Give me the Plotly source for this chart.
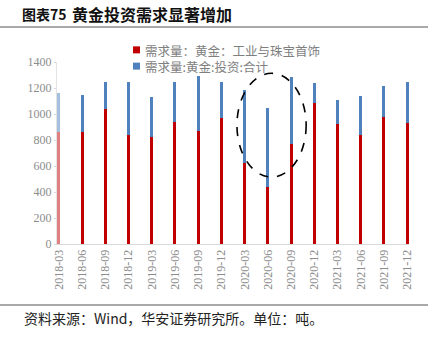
import plotly.graph_objects as go

# Quarterly gold demand (tonnes)
periods = ["2018-03", "2018-06", "2018-09", "2018-12",
           "2019-03", "2019-06", "2019-09", "2019-12",
           "2020-03", "2020-06", "2020-09", "2020-12",
           "2021-03", "2021-06", "2021-09", "2021-12"]
jewelry = [862, 860, 1042, 837, 820, 940, 870, 970,
           620, 440, 768, 1088, 924, 842, 975, 927]
investment = [300, 290, 208, 411, 307, 304, 420, 274,
              568, 605, 517, 151, 187, 300, 241, 317]
y_ticks = [0, 200, 400, 600, 800, 1000, 1200, 1400]

series_names = ["需求量：黄金：工业与珠宝首饰", "需求量:黄金:投资:合计"]
RED = "#C00000"
BLUE = "#4F81BD"
RED_PALE = "#E08080"
BLUE_PALE = "#A7C0DE"

x = list(range(len(periods)))
red_colors = [RED_PALE if i == 0 else RED for i in x]
blue_colors = [BLUE_PALE if i == 0 else BLUE for i in x]

fig = go.Figure()
fig.add_trace(go.Bar(x=x, y=jewelry, name=series_names[0], width=0.13,
                     marker=dict(color=red_colors, line=dict(width=0))))
fig.add_trace(go.Bar(x=x, y=investment, name=series_names[1], width=0.13,
                     marker=dict(color=blue_colors, line=dict(width=0))))

serif = "Liberation Serif"
cjk = "Noto Sans CJK SC"

# plot area: 57..409 px horizontally, 62..244 px vertically
L, T, W, H = 57, 62, 352, 182


def px(xp):
    return (xp - L) / W


def py(yp):
    return (T + H - yp) / H


fig.update_layout(
    width=428, height=343,
    margin=dict(l=L, r=428 - L - W, t=T, b=343 - T - H),
    paper_bgcolor="white", plot_bgcolor="white",
    barmode="stack", bargap=0,
    showlegend=False,
    xaxis=dict(range=[-0.08, 15.08], tickvals=x, ticktext=periods,
               tickangle=-90, showgrid=False, zeroline=False,
               showline=True, linecolor="#D9D9D9", linewidth=1,
               ticks="", tickfont=dict(family=serif, size=12, color="#8C8C8C")),
    yaxis=dict(range=[0, 1400], tickvals=y_ticks, showgrid=False,
               zeroline=False, showline=True, linecolor="#E3E3E3",
               linewidth=1, ticks="outside", ticklen=2, tickcolor="#D9D9D9",
               tickfont=dict(family=serif, size=12, color="#8C8C8C")),
)

# Legend: two swatches beside one two-line label block
legend_font = 12.5
line_h = 1.3 * legend_font
legend_mid = 58
swatch_rows = [(legend_mid - line_h / 2, RED), (legend_mid + line_h / 2, BLUE)]
for y_px, col in swatch_rows:
    fig.add_shape(type="rect", xref="paper", yref="paper",
                  x0=px(133), x1=px(140),
                  y0=py(y_px + 3.5), y1=py(y_px - 3.5),
                  fillcolor=col, line=dict(width=0))
fig.add_annotation(text="<br>".join(series_names), xref="paper", yref="paper",
                   x=px(144), y=py(legend_mid), align="left",
                   xanchor="left", yanchor="middle", showarrow=False,
                   borderpad=0,
                   font=dict(family=cjk, size=legend_font, color="#7F7F7F"))

# Dashed ellipse around the 2020 quarters
fig.add_shape(type="circle", xref="x", yref="y",
              x0=7.67, x1=10.65, y0=515, y1=1313,
              line=dict(color="black", width=1.6, dash="dash"))

# Title
fig.add_annotation(text="<b>图表75</b>", xref="paper", yref="paper",
                   x=px(21), y=py(14), xanchor="left", yanchor="middle",
                   showarrow=False, borderpad=0,
                   font=dict(family=cjk, size=14, color="#111111"))
fig.add_annotation(text="<b>黄金投资需求显著增加</b>", xref="paper", yref="paper",
                   x=px(71), y=py(14), xanchor="left", yanchor="middle",
                   showarrow=False, borderpad=0,
                   font=dict(family=cjk, size=16, color="#111111"))

# Rules under the title and above the source note
for y_rule in (27, 305):
    fig.add_shape(type="line", xref="paper", yref="paper",
                  x0=px(0), x1=px(428), y0=py(y_rule), y1=py(y_rule),
                  line=dict(color="#555555", width=1.2))

fig.add_annotation(text="资料来源：Wind，华安证券研究所。单位：吨。", xref="paper", yref="paper",
                   x=px(23), y=py(318), xanchor="left", yanchor="middle",
                   showarrow=False, borderpad=0,
                   font=dict(family=cjk, size=14, color="#222222"))

fig.write_html("out.html")
